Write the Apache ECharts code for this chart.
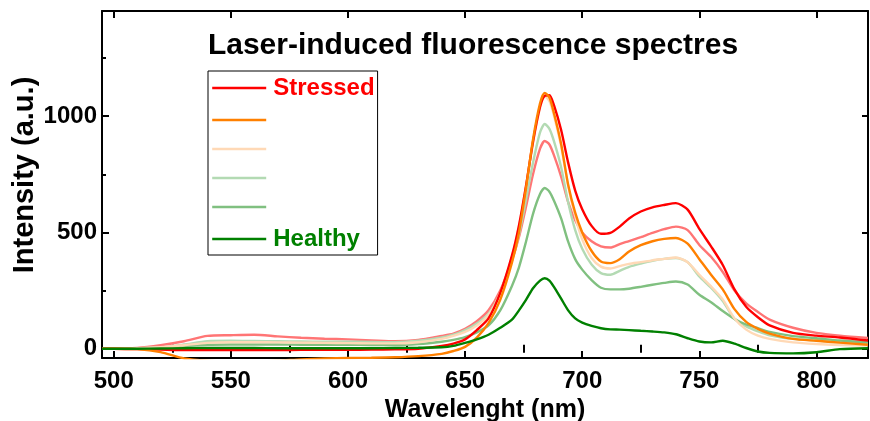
<!DOCTYPE html>
<html>
<head>
<meta charset="utf-8">
<script src="https://cdn.jsdelivr.net/npm/echarts@6.0.0/dist/echarts.min.js"></script>
<style>
  html, body { margin: 0; padding: 0; background: #fff; }
  #chart { width: 870px; height: 421px; }
</style>
</head>
<body>
<div id="chart"></div>
<script>
// wavelength grid (nm)
const wavelengths = [495, 500, 510, 520, 530, 540, 550, 560, 570, 580,
  590, 600, 610, 620, 630, 640, 645, 650, 655, 660,
  665, 670, 673, 676, 679, 682, 684, 686, 688, 691,
  694, 697, 700, 704, 708, 712, 716, 720, 725, 730,
  735, 740, 745, 750, 755, 760, 765, 770, 775, 780,
  790, 800, 810, 822];

const stressed = [0, 0, -2, -4, -6, -6, -6, -5, -6, -5,
  -5, -5, -4, -3, 0, 12, 22, 40, 80, 130,
  240, 400, 530, 700, 890, 1040, 1088, 1090, 1045, 940,
  800, 680, 600, 528, 494, 498, 525, 560, 590, 608,
  618, 626, 598, 515, 440, 360, 255, 180, 135, 100,
  68, 56, 48, 35];

const salmon = [0, 0, 3, 15, 32, 55, 58, 60, 53, 47,
  43, 40, 36, 32, 38, 55, 65, 85, 118, 165,
  250, 380, 480, 610, 750, 860, 893, 878, 830, 740,
  630, 552, 500, 462, 440, 435, 450, 463, 480, 498,
  514, 525, 510, 446, 395, 330, 250, 195, 158, 125,
  90, 68, 56, 46];

const orange = [0, 0, -2, -15, -42, -52, -55, -55, -52, -46,
  -42, -40, -39, -37, -32, -22, -10, 8, 48, 110,
  210, 370, 500, 690, 900, 1055, 1100, 1080, 1010, 880,
  705, 585, 500, 420, 375, 368, 385, 418, 445, 462,
  472, 476, 452, 385, 318, 255, 170, 115, 85, 65,
  42, 34, 26, 17];

const peach = [0, 0, 2, 6, 15, 25, 28, 28, 27, 26,
  25, 24, 23, 23, 28, 42, 55, 72, 100, 145,
  240, 395, 525, 695, 885, 1035, 1085, 1065, 1000, 870,
  700, 570, 470, 390, 353, 345, 355, 365, 372, 380,
  386, 392, 372, 318, 268, 212, 130, 82, 56, 42,
  27, 20, 16, 13];

const lightGreen = [0, 0, 2, 6, 18, 32, 34, 33, 32, 31,
  30, 30, 29, 28, 34, 48, 60, 80, 108, 150,
  240, 380, 490, 640, 800, 930, 966, 945, 890, 780,
  630, 510, 430, 362, 325, 318, 335, 352, 366, 378,
  386, 390, 372, 311, 262, 205, 128, 96, 75, 58,
  42, 35, 28, 22];

const midGreen = [0, 0, 1, 3, 10, 17, 18, 18, 18, 17,
  17, 17, 16, 16, 20, 30, 38, 50, 70, 100,
  165, 270, 350, 460, 580, 665, 691, 675, 635, 560,
  460, 385, 340, 295, 262, 255, 255, 258, 266, 275,
  283, 289, 276, 232, 200, 162, 128, 104, 88, 72,
  54, 45, 35, 27];

const healthy = [0, 0, 0, 1, 2, 3, 3, 3, 2, 2,
  2, 2, 2, 3, 4, 6, 12, 25, 40, 60,
  90, 125, 165, 210, 260, 293, 303, 293, 265, 215,
  165, 130, 112, 98, 88, 83, 82, 80, 77, 74,
  70, 62, 45, 31, 27, 34, 22, 3, -12, -18,
  -20, -15, -2, 2];

const xMajor = [500, 550, 600, 650, 700, 750, 800];
const xMinor = [525, 575, 625, 675, 725, 775];
const yMajor = [0, 500, 1000];
const yMinor = [250, 750, 1250];

const legendText = { 'Stressed': 'Stressed', s2: '', s3: '', s4: '', s5: '', 'Healthy': 'Healthy' };

const FONT = 'Liberation Sans, Arial, sans-serif';

const pairs = (vals) => wavelengths.map((w, i) => [w, vals[i]]);

const line = (name, color, vals, z) => ({
  name: name,
  type: 'line',
  data: pairs(vals),
  showSymbol: false,
  symbol: 'none',
  smooth: 0.25,
  z: z,
  color: color,
  lineStyle: { color: color, width: 2.4 },
  emphasis: { disabled: true }
});

const axisBase = (extra) => Object.assign({
  type: 'value',
  min: 495,
  max: 822,
  splitLine: { show: false },
  axisLine: { show: true, onZero: false, lineStyle: { color: '#000', width: 2 } },
  axisLabel: { show: false },
  axisTick: { show: false }
}, extra);

const yBase = (extra) => Object.assign({
  type: 'value',
  min: -40,
  max: 1452,
  splitLine: { show: false },
  axisLine: { show: true, onZero: false, lineStyle: { color: '#000', width: 2 } },
  axisLabel: { show: false },
  axisTick: { show: false }
}, extra);

const chart = echarts.init(document.getElementById('chart'));

chart.setOption({
  animation: false,
  backgroundColor: '#fff',
  grid: { left: 102, right: 2, top: 11, bottom: 63, containLabel: false, outerBoundsMode: 'none' },
  graphic: [{
    type: 'text',
    x: 473,
    y: 46,
    style: {
      text: 'Laser-induced fluorescence spectres',
      font: 'bold 30px ' + FONT,
      fill: '#000',
      textAlign: 'center',
      textVerticalAlign: 'middle'
    }
  }, {
    type: 'text',
    x: 25,
    y: 175,
    rotation: Math.PI / 2,
    style: {
      text: 'Intensity (a.u.)',
      font: 'bold 29px ' + FONT,
      fill: '#000',
      textAlign: 'center',
      textVerticalAlign: 'middle'
    }
  }],
  legend: {
    orient: 'vertical',
    left: 208,
    top: 71,
    padding: [2, 3, 1, 3],
    borderColor: '#000',
    borderWidth: 1,
    itemWidth: 54,
    itemHeight: 30,
    itemGap: 5,
    selectedMode: false,
    itemStyle: { color: 'rgba(0,0,0,0)', borderWidth: 0, opacity: 0 },
    lineStyle: { width: 2.4 },
    formatter: (n) => legendText[n],
    textStyle: { fontFamily: FONT, fontSize: 24, fontWeight: 'bold', lineHeight: 30, padding: [0, 0, 0, 2] },
    data: [
      { name: 'Stressed', textStyle: { color: '#ff0000' } },
      { name: 's2' },
      { name: 's3' },
      { name: 's4' },
      { name: 's5' },
      { name: 'Healthy', textStyle: { color: '#008000' } }
    ]
  },
  xAxis: [
    axisBase({
      position: 'bottom',
      axisTick: { show: true, inside: true, length: 7, customValues: xMajor, lineStyle: { color: '#000', width: 2 } },
      axisLabel: { show: true, customValues: xMajor, margin: 11, color: '#000', fontFamily: FONT, fontSize: 24, fontWeight: 'bold' },
      name: 'Wavelenght (nm)',
      nameLocation: 'middle',
      nameGap: 37,
      nameTextStyle: { color: '#000', fontFamily: FONT, fontSize: 25, fontWeight: 'bold' }
    }),
    axisBase({
      position: 'bottom',
      axisLine: { show: false },
      axisTick: { show: true, inside: true, length: 4, customValues: xMinor, lineStyle: { color: '#000', width: 2 } }
    }),
    axisBase({
      position: 'top',
      axisTick: { show: true, inside: true, length: 7, customValues: xMajor, lineStyle: { color: '#000', width: 2 } }
    }),
    axisBase({
      position: 'top',
      axisLine: { show: false },
      axisTick: { show: true, inside: true, length: 4, customValues: xMinor, lineStyle: { color: '#000', width: 2 } }
    })
  ],
  yAxis: [
    yBase({
      position: 'left',
      axisTick: { show: true, inside: true, length: 7, customValues: yMajor, lineStyle: { color: '#000', width: 2 } },
      axisLabel: { show: true, customValues: yMajor, margin: 5, color: '#000', fontFamily: FONT, fontSize: 24, fontWeight: 'bold', formatter: (v) => String(v) }
    }),
    yBase({
      position: 'left',
      axisLine: { show: false },
      axisTick: { show: true, inside: true, length: 4, customValues: yMinor, lineStyle: { color: '#000', width: 2 } }
    }),
    yBase({
      position: 'right',
      axisTick: { show: true, inside: true, length: 6, customValues: yMajor, lineStyle: { color: '#000', width: 2 } }
    })
  ],
  series: [
    line('salmon', '#ff7575', salmon, 2),
    line('s4', '#b3dab3', lightGreen, 3),
    line('s5', '#80c080', midGreen, 4),
    line('s3', '#ffd9b6', peach, 5),
    line('Stressed', '#ff0000', stressed, 6),
    line('s2', '#ff8000', orange, 7),
    line('Healthy', '#008000', healthy, 8)
  ]
});
</script>
</body>
</html>
